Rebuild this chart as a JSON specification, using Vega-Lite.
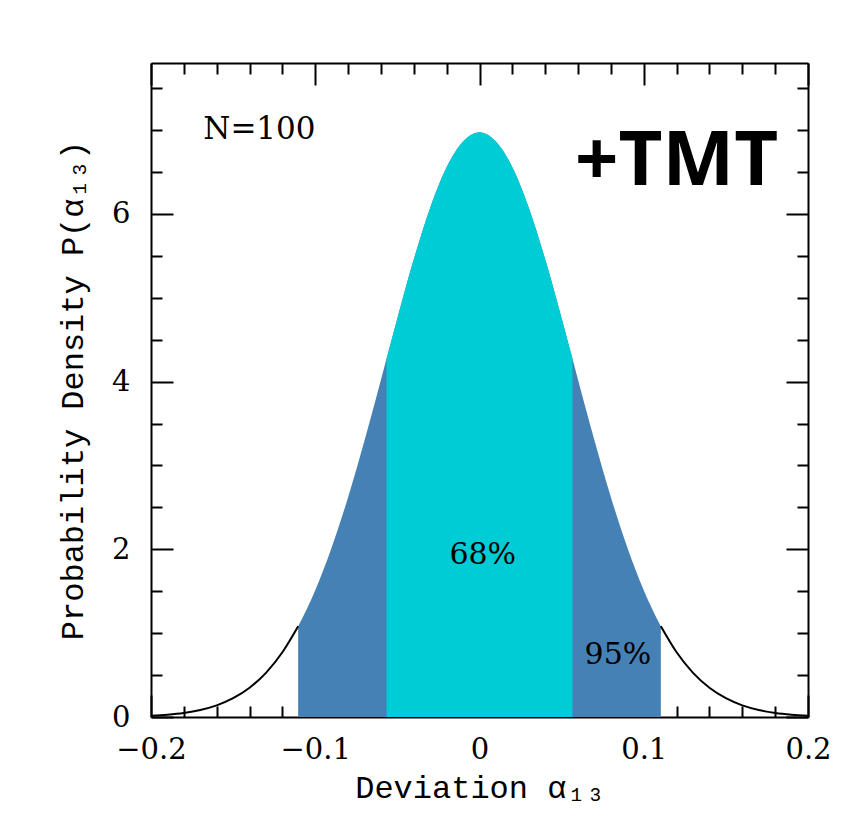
{
  "$schema": "https://vega.github.io/schema/vega-lite/v6.json",
  "autosize": {"type": "none"},
  "width": 657,
  "height": 654,
  "padding": {"left": 151, "top": 63, "right": 58, "bottom": 112},
  "background": "white",
  "config": {
    "view": {"stroke": null},
    "axis": {
      "domainColor": "black", "domainWidth": 2, "tickColor": "black", "tickWidth": 2, "labelFlush": false,
      "grid": false, "labelFont": "DejaVu Serif", "labelFontSize": 29, "labelColor": "black",
      "titleFont": "Liberation Mono", "titleFontSize": 32, "titleFontWeight": "normal", "titleColor": "black"
    }
  },
  "data": {"values": [
    {"x": -0.2, "p": 0.015}, {"x": -0.19, "p": 0.028}, {"x": -0.18, "p": 0.049}, {"x": -0.17, "p": 0.084},
    {"x": -0.16, "p": 0.139}, {"x": -0.15, "p": 0.224}, {"x": -0.14, "p": 0.349}, {"x": -0.13, "p": 0.527},
    {"x": -0.12, "p": 0.772}, {"x": -0.1104, "p": 1.082}, {"x": -0.11, "p": 1.097}, {"x": -0.1, "p": 1.512},
    {"x": -0.09, "p": 2.022}, {"x": -0.08, "p": 2.621}, {"x": -0.07, "p": 3.297}, {"x": -0.06, "p": 4.021},
    {"x": -0.0566, "p": 4.272}, {"x": -0.05, "p": 4.757}, {"x": -0.04, "p": 5.458}, {"x": -0.03, "p": 6.074},
    {"x": -0.02, "p": 6.557}, {"x": -0.01, "p": 6.864}, {"x": 0, "p": 6.975},
    {"x": 0.01, "p": 6.864}, {"x": 0.02, "p": 6.557}, {"x": 0.03, "p": 6.074}, {"x": 0.04, "p": 5.458},
    {"x": 0.05, "p": 4.757}, {"x": 0.0566, "p": 4.272}, {"x": 0.06, "p": 4.021}, {"x": 0.07, "p": 3.297},
    {"x": 0.08, "p": 2.621}, {"x": 0.09, "p": 2.022}, {"x": 0.1, "p": 1.512}, {"x": 0.11, "p": 1.097},
    {"x": 0.1104, "p": 1.082}, {"x": 0.12, "p": 0.772}, {"x": 0.13, "p": 0.527}, {"x": 0.14, "p": 0.349},
    {"x": 0.15, "p": 0.224}, {"x": 0.16, "p": 0.139}, {"x": 0.17, "p": 0.084}, {"x": 0.18, "p": 0.049},
    {"x": 0.19, "p": 0.028}, {"x": 0.2, "p": 0.015}
  ]},
  "resolve": {"axis": {"x": "independent", "y": "independent"}},
  "layer": [
    {
      "transform": [{"filter": "abs(datum.x) <= 0.11041"}],
      "mark": {"type": "area", "color": "#4581B4", "interpolate": "monotone"},
      "encoding": {
        "x": {"field": "x", "type": "quantitative", "scale": {"domain": [-0.2, 0.2], "nice": false, "zero": false},
          "axis": {"orient": "bottom", "values": [-0.2, -0.1, 0, 0.1, 0.2], "tickSize": -22, "labelPadding": 40,
            "labelExpr": "datum.value == 0 ? '0' : format(datum.value, '.1f')", "title": "Deviation α₁₃", "titlePadding": 8}},
        "y": {"field": "p", "type": "quantitative", "scale": {"domain": [0, 7.8], "nice": false},
          "axis": {"orient": "left", "values": [0, 2, 4, 6], "tickSize": -22, "labelPadding": 43,
            "title": "Probability Density P(α₁₃)", "titlePadding": 22}}
      }
    },
    {
      "transform": [{"filter": "abs(datum.x) <= 0.0567"}],
      "mark": {"type": "area", "color": "#00CCD6", "interpolate": "monotone"},
      "encoding": {
        "x": {"field": "x", "type": "quantitative",
          "axis": {"orient": "bottom", "values": [-0.18, -0.16, -0.14, -0.12, -0.08, -0.06, -0.04, -0.02, 0.02, 0.04, 0.06, 0.08, 0.12, 0.14, 0.16, 0.18],
            "tickSize": -11, "labels": false, "domain": false, "title": null}},
        "y": {"field": "p", "type": "quantitative",
          "axis": {"orient": "left", "values": [0.5, 1, 1.5, 2.5, 3, 3.5, 4.5, 5, 5.5, 6.5, 7, 7.5],
            "tickSize": -11, "labels": false, "domain": false, "title": null}}
      }
    },
    {
      "transform": [{"filter": "datum.x <= -0.1104"}],
      "mark": {"type": "line", "color": "black", "strokeWidth": 2, "interpolate": "monotone"},
      "encoding": {
        "x": {"field": "x", "type": "quantitative",
          "axis": {"orient": "top", "values": [-0.2, -0.1, 0, 0.1, 0.2], "tickSize": -22, "labels": false, "title": null}},
        "y": {"field": "p", "type": "quantitative",
          "axis": {"orient": "right", "values": [0, 2, 4, 6], "tickSize": -22, "labels": false, "title": null}}
      }
    },
    {
      "transform": [{"filter": "datum.x >= 0.1104"}],
      "mark": {"type": "line", "color": "black", "strokeWidth": 2, "interpolate": "monotone"},
      "encoding": {
        "x": {"field": "x", "type": "quantitative",
          "axis": {"orient": "top", "values": [-0.18, -0.16, -0.14, -0.12, -0.08, -0.06, -0.04, -0.02, 0.02, 0.04, 0.06, 0.08, 0.12, 0.14, 0.16, 0.18],
            "tickSize": -11, "labels": false, "domain": false, "title": null}},
        "y": {"field": "p", "type": "quantitative",
          "axis": {"orient": "right", "values": [0.5, 1, 1.5, 2.5, 3, 3.5, 4.5, 5, 5.5, 6.5, 7, 7.5],
            "tickSize": -11, "labels": false, "domain": false, "title": null}}
      }
    },
    {
      "data": {"values": [{"label": "N=100"}]},
      "mark": {"type": "text", "font": "DejaVu Serif", "fontSize": 31, "color": "black", "align": "center", "baseline": "middle"},
      "encoding": {
        "x": {"datum": -0.134, "type": "quantitative", "axis": null},
        "y": {"datum": 7.0, "type": "quantitative", "axis": null},
        "text": {"field": "label"}
      }
    },
    {
      "data": {"values": [{"label": "+TMT"}]},
      "mark": {"type": "text", "font": "Open Sans", "fontSize": 76, "fontWeight": "bold", "color": "black", "align": "center", "baseline": "middle"},
      "encoding": {
        "x": {"datum": 0.12, "type": "quantitative", "axis": null},
        "y": {"datum": 6.62, "type": "quantitative", "axis": null},
        "text": {"field": "label"}
      }
    },
    {
      "data": {"values": [{"label": "68%"}]},
      "mark": {"type": "text", "font": "DejaVu Serif", "fontSize": 30, "color": "black", "align": "center", "baseline": "middle"},
      "encoding": {
        "x": {"datum": 0.002, "type": "quantitative", "axis": null},
        "y": {"datum": 1.93, "type": "quantitative", "axis": null},
        "text": {"field": "label"}
      }
    },
    {
      "data": {"values": [{"label": "95%"}]},
      "mark": {"type": "text", "font": "DejaVu Serif", "fontSize": 30, "color": "black", "align": "center", "baseline": "middle"},
      "encoding": {
        "x": {"datum": 0.0843, "type": "quantitative", "axis": null},
        "y": {"datum": 0.737, "type": "quantitative", "axis": null},
        "text": {"field": "label"}
      }
    }
  ]
}
